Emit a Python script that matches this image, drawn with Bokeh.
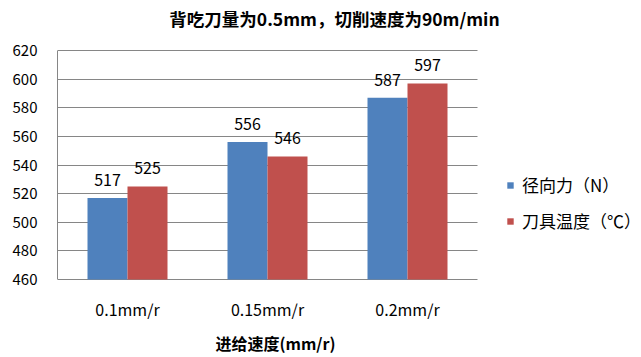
import numpy as np
from bokeh.plotting import figure
from bokeh.models import (ColumnDataSource, Range1d, Legend, LegendItem,
                          LabelSet, Label, FixedTicker)
from bokeh.core.properties import value
from bokeh.embed import file_html
from bokeh.resources import INLINE

# Feed rate categories and measured results
feed_rates = ["0.1mm/r", "0.15mm/r", "0.2mm/r"]
radial_force = [517, 556, 587]        # 径向力 (N)
tool_temperature = [525, 546, 597]    # 刀具温度 (℃)
y_ticks = [460, 480, 500, 520, 540, 560, 580, 600, 620]

series_names = ["径向力（N）", "刀具温度（℃）"]
colors = ["#4F81BD", "#C0504D"]
title_text = "背吃刀量为0.5mm，切削速度为90m/min"
x_title = "进给速度(mm/r)"

FONT = "Noto Sans CJK SC"
GRID = "#868686"

# page geometry (pixels)
W, H = 641, 357
LEFT = 57                 # left edge of the value axis
AXIS_TOP, AXIS_BOTTOM = 50, 279
CAT_PX = 140              # width of one category band

n = len(feed_rates)
centers = np.arange(n) + 0.5
bw = 40 / CAT_PX          # width of one bar in category units

y0, y1 = y_ticks[0], y_ticks[-1]
per_px = (y1 - y0) / (AXIS_BOTTOM - AXIS_TOP)


def x_at(px):
    return (px - LEFT) / CAT_PX


def y_at(py):
    return y0 + (AXIS_BOTTOM - py) * per_px


src = ColumnDataSource(dict(
    xf=centers - bw / 2,
    xt=centers + bw / 2,
    force=radial_force,
    temp=tool_temperature,
    force_txt=[str(v) for v in radial_force],
    temp_txt=[str(v) for v in tool_temperature],
))
cat_src = ColumnDataSource(dict(x=centers, y=[y_at(308)] * n, name=feed_rates))

p = figure(
    width=W, height=H,
    x_range=Range1d(0, x_at(W)),
    y_range=Range1d(y_at(H), y_at(0)),
    x_axis_location=None,
    output_backend="svg", toolbar_location=None,
    min_border_left=LEFT, min_border_right=0,
    min_border_top=0, min_border_bottom=0,
)
p.outline_line_color = None
p.background_fill_color = "white"
p.border_fill_color = "white"

r1 = p.vbar(x="xf", top="force", bottom=y0, width=bw, source=src,
            fill_color=colors[0], line_color=None)
r2 = p.vbar(x="xt", top="temp", bottom=y0, width=bw, source=src,
            fill_color=colors[1], line_color=None)

# value labels above each bar
for xcol, col, txt in [("xf", "force", "force_txt"), ("xt", "temp", "temp_txt")]:
    p.add_layout(LabelSet(
        x=xcol, y=col, text=txt, source=src,
        text_align="center", text_baseline="alphabetic", y_offset=12,
        text_font=value(FONT), text_font_size=value("16px"),
        text_color="#000000"))

# category names under each band
p.add_layout(LabelSet(
    x="x", y="y", text="name", source=cat_src,
    text_align="center", text_baseline="middle",
    text_font=value(FONT), text_font_size=value("16px"),
    text_color="#000000"))

# category axis title
p.add_layout(Label(
    x=x_at(275), y=y_at(342), text=x_title,
    text_align="center", text_baseline="middle",
    text_font=FONT, text_font_size="16px", text_font_style="bold",
    text_color="#000000"))

# chart title
p.add_layout(Label(
    x=x_at(334), y=y_at(18), text=title_text,
    text_align="center", text_baseline="middle",
    text_font=FONT, text_font_size="17.5px", text_font_style="bold",
    text_color="#000000"))

# y axis
p.yaxis.ticker = FixedTicker(ticks=y_ticks)
p.yaxis.bounds = (y0, y1)
p.yaxis.major_tick_line_color = None
p.yaxis.minor_tick_line_color = None
p.yaxis.axis_line_color = GRID
p.yaxis.major_label_text_font = FONT
p.yaxis.major_label_text_font_size = "15px"
p.yaxis.major_label_text_color = "#000000"
p.yaxis.major_label_standoff = 14

# horizontal gridlines only across the category bands (460 acts as baseline)
p.xgrid.grid_line_color = None
grid = p.ygrid[0]
grid.ticker = FixedTicker(ticks=y_ticks)
grid.grid_line_color = GRID
grid.cross_bounds = (0, n)

legend = Legend(
    items=[LegendItem(label=series_names[0], renderers=[r1]),
           LegendItem(label=series_names[1], renderers=[r2])],
    location=(449, H - AXIS_BOTTOM + 46), orientation="vertical",
    glyph_width=8, glyph_height=8, label_height=24, spacing=11,
    padding=0, margin=0, border_line_color=None, background_fill_alpha=0,
    label_text_font=FONT, label_text_font_size="17px",
    label_text_color="#000000", label_standoff=8,
)
p.add_layout(legend)

open("out.html", "w").write(file_html(p, INLINE))
